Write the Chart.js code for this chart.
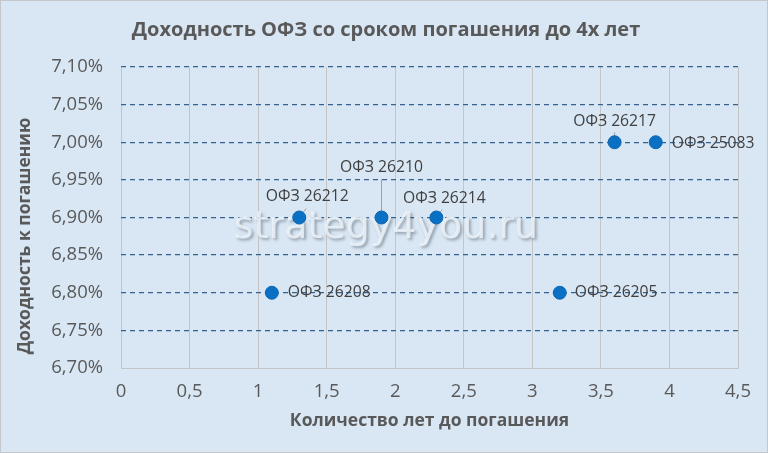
<!DOCTYPE html>
<html><head><meta charset="utf-8">
<script src="https://cdn.jsdelivr.net/npm/chart.js@4.4.1/dist/chart.umd.min.js"></script>
<style>
html,body{margin:0;padding:0;background:#fff;}
#wrap{position:relative;width:768px;height:453px;background:#d9e7f4;}
#wrap:after{content:"";position:absolute;left:0;top:0;right:0;bottom:0;border:1px solid #c4c8cc;pointer-events:none;}
canvas{position:absolute;left:0;top:0;}
</style></head><body>
<div id="wrap"><canvas id="c" width="768" height="453"></canvas></div>
<script>
// ---- data ----
const chartTitle = 'Доходность ОФЗ со сроком погашения до 4х лет';
const xAxisTitle = 'Количество лет до погашения';
const yAxisTitle = 'Доходность к погашению';
const watermark = 'strategy4you.ru';
const bondNames = ['ОФЗ 26208','ОФЗ 26212','ОФЗ 26210','ОФЗ 26214','ОФЗ 26205','ОФЗ 26217','ОФЗ 25083'];
const yearsToMaturity = [1.1, 1.3, 1.9, 2.3, 3.2, 3.6, 3.9];
const yieldPercent = [6.80, 6.90, 6.90, 6.90, 6.80, 7.00, 7.00];
const xTickValues = [0, 0.5, 1, 1.5, 2, 2.5, 3, 3.5, 4, 4.5];
const yTickValues = [6.70, 6.75, 6.80, 6.85, 6.90, 6.95, 7.00, 7.05, 7.10];

// ---- label placement (style) : offsets in px from point centre ----
const labelPlacement = [
  {dx:16, dy:0,   align:'left'},
  {dx:8,  dy:-21, align:'center', lx:7,  ly:-9},
  {dx:0,  dy:-50, align:'center', lx:0,  ly:-38},
  {dx:8,  dy:-19, align:'center', lx:6,  ly:-8},
  {dx:15, dy:0,   align:'left'},
  {dx:0,  dy:-21, align:'center', lx:0,  ly:-10},
  {dx:16, dy:1,   align:'left'}
];

const textFont = '"Open Sans", "DejaVu Sans", sans-serif';

const decorPlugin = {
  id: 'decor',
  beforeDatasetsDraw(chart) {
    const ctx = chart.ctx;
    const meta = chart.getDatasetMeta(0);
    ctx.save();
    ctx.font = '38px "DejaVu Sans", sans-serif';
    ctx.textAlign = 'center';
    ctx.textBaseline = 'middle';
    ctx.shadowColor = 'rgba(40,50,60,0.45)';
    ctx.shadowBlur = 3;
    ctx.shadowOffsetX = 2;
    ctx.shadowOffsetY = 2;
    ctx.fillStyle = 'rgba(236,242,248,0.85)';
    ctx.fillText(watermark, 386, 228);
    ctx.restore();
    ctx.save();
    ctx.strokeStyle = '#a0a0a0';
    ctx.lineWidth = 1;
    meta.data.forEach((pt, i) => {
      const p = labelPlacement[i];
      if (p.lx === undefined) return;
      ctx.beginPath();
      ctx.moveTo(pt.x, pt.y);
      ctx.lineTo(pt.x + p.lx, pt.y + p.ly);
      ctx.stroke();
    });
    ctx.restore();
  },
  afterDatasetsDraw(chart) {
    const ctx = chart.ctx;
    const meta = chart.getDatasetMeta(0);
    ctx.save();
    ctx.font = '15.7px ' + textFont;
    ctx.fillStyle = '#404040';
    ctx.textBaseline = 'middle';
    meta.data.forEach((pt, i) => {
      const p = labelPlacement[i];
      ctx.textAlign = p.align;
      ctx.fillText(bondNames[i], pt.x + p.dx, pt.y + p.dy);
    });
    ctx.restore();
  },
  afterDraw(chart) {
    const ctx = chart.ctx;
    const ca = chart.chartArea;
    ctx.save();
    ctx.fillStyle = '#595959';
    ctx.textAlign = 'center';
    ctx.textBaseline = 'middle';
    ctx.font = 'bold 20px ' + textFont;
    ctx.fillText(chartTitle, 386, 30);
    ctx.font = 'bold 17.5px ' + textFont;
    ctx.fillText(xAxisTitle, (ca.left + ca.right) / 2, 421);
    ctx.translate(25, 236);
    ctx.rotate(-Math.PI / 2);
    ctx.fillText(yAxisTitle, 0, 0);
    ctx.restore();
  }
};

const fmtNum = v => String(+v.toFixed(2)).replace('.', ',');

new Chart(document.getElementById('c'), {
  type: 'scatter',
  data: {
    datasets: [{
      data: yearsToMaturity.map((x, i) => ({x, y: yieldPercent[i]})),
      backgroundColor: '#0a70c4',
      borderColor: '#0a64b0',
      borderWidth: 1,
      pointRadius: 6.5,
      pointHoverRadius: 6.5
    }]
  },
  options: {
    responsive: false,
    devicePixelRatio: 1,
    animation: false,
    layout: { padding: { top: 67, right: 30, left: 0, bottom: 0 } },
    plugins: { legend: { display: false }, tooltip: { enabled: false }, title: { display: false } },
    scales: {
      x: {
        type: 'linear',
        min: xTickValues[0],
        max: xTickValues[xTickValues.length - 1],
        afterBuildTicks: s => { s.ticks = xTickValues.map(v => ({value: v})); },
        afterFit: s => { s.height = 85; },
        ticks: {
          callback: v => fmtNum(v),
          font: { family: textFont, size: 18.5 },
          color: '#595959',
          padding: 13,
          maxRotation: 0,
          autoSkip: false
        },
        grid: { color: '#c4c4c4', lineWidth: 1, drawTicks: false },
        border: { display: true, color: '#c4c4c4' }
      },
      y: {
        type: 'linear',
        min: yTickValues[0],
        max: yTickValues[yTickValues.length - 1],
        afterBuildTicks: s => { s.ticks = yTickValues.map(v => ({value: v})); },
        afterFit: s => { s.width = 121; },
        ticks: {
          callback: v => v.toFixed(2).replace('.', ',') + '%',
          font: { family: textFont, size: 18.5 },
          color: '#595959',
          padding: 18,
          autoSkip: false
        },
        grid: {
          color: ctx => (ctx.tick && Math.abs(ctx.tick.value - yTickValues[0]) < 1e-9) ? 'rgba(0,0,0,0)' : '#36628f',
          lineWidth: 1.3,
          drawTicks: false
        },
        border: { display: false, dash: [5, 4] }
      }
    }
  },
  plugins: [decorPlugin]
});
</script>
</body></html>
